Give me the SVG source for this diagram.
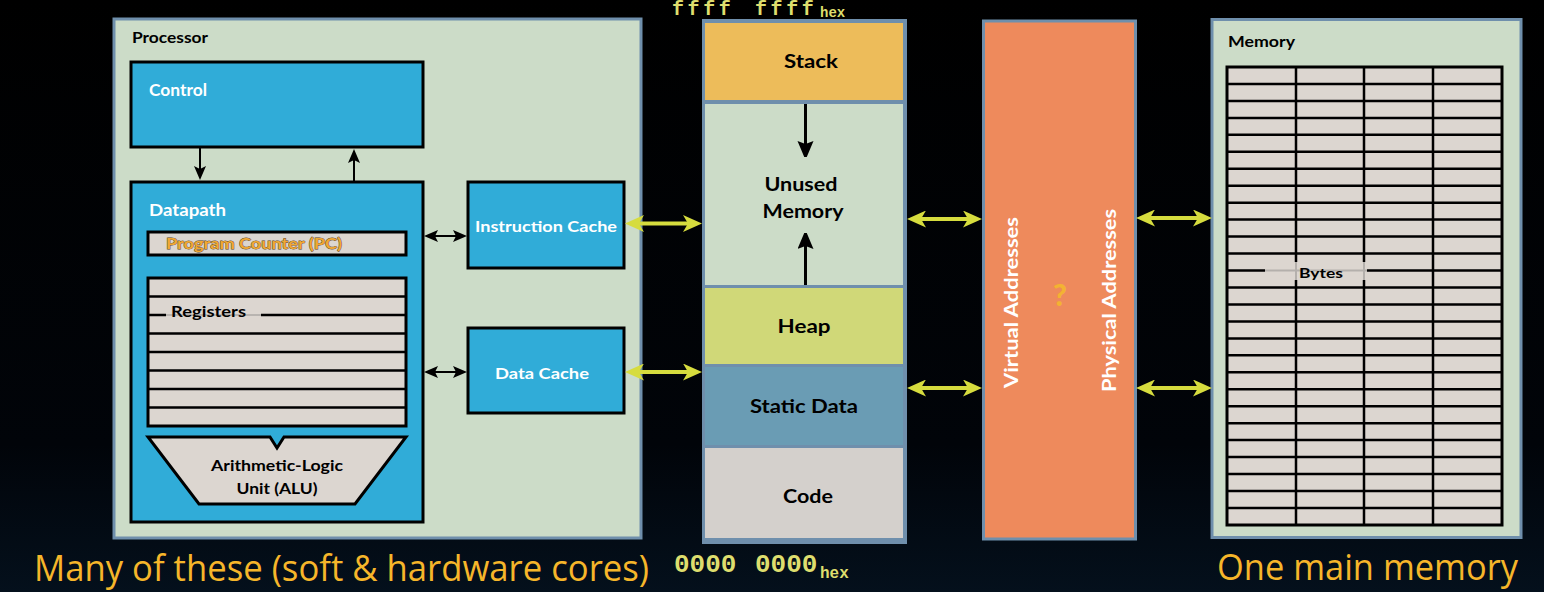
<svg xmlns="http://www.w3.org/2000/svg" width="1544" height="592" viewBox="0 0 1544 592">
<style>
.lbl{font-family:"Lato","Open Sans","Liberation Sans",sans-serif;font-weight:700}
.w{fill:#ffffff}
.k{fill:#000000}
.panel{fill:#ccdcc8;stroke:#6f8fac;stroke-width:3}
.blue{fill:#30acd8;stroke:#000;stroke-width:3}
.cell{fill:#dcd6d0;stroke:#000;stroke-width:3}
.grid{fill:none;stroke:#000;stroke-width:2.5}
.ya{stroke:#d6dc3e;stroke-width:4;fill:none}
.ka{stroke:#000;stroke-width:2;fill:none}
.kb{stroke:#000;stroke-width:3;fill:none}
.hex{font-family:"Liberation Mono","DejaVu Sans Mono",monospace;font-weight:700;fill:#dede6e}
.big{font-family:"Open Sans","Noto Sans","Liberation Sans",sans-serif;fill:#f6b62a}
</style>
<defs>
<linearGradient id="bg" x1="0" y1="0" x2="0" y2="1">
<stop offset="0" stop-color="#000000"/>
<stop offset="0.75" stop-color="#010409"/>
<stop offset="1" stop-color="#04101c"/>
</linearGradient>
<marker id="ym" viewBox="0 0 19 17" refX="8" refY="8.5" markerWidth="19" markerHeight="17" markerUnits="userSpaceOnUse" orient="auto-start-reverse">
<path d="M0,0 L19,8.5 L0,17 L5,8.5 Z" fill="#d6dc3e"/>
</marker>
<marker id="km" viewBox="0 0 14 12" refX="6" refY="6" markerWidth="14" markerHeight="12" markerUnits="userSpaceOnUse" orient="auto-start-reverse">
<path d="M0,0 L14,6 L0,12 L3,6 Z" fill="#000"/>
</marker>
<marker id="kl" viewBox="0 0 16 19" refX="6" refY="8" markerWidth="16" markerHeight="19" markerUnits="userSpaceOnUse" orient="auto">
<path d="M0,0 L19,8 L0,16 L3,8 Z" fill="#000"/>
</marker>
</defs>
<rect x="0" y="0" width="1544" height="592" fill="url(#bg)"/>

<g id="processor">
<rect class="panel" x="114" y="19" width="527" height="519"/>
<text class="lbl k" x="132" y="43" font-size="15" textLength="76" lengthAdjust="spacingAndGlyphs">Processor</text>
</g>

<g id="control">
<rect class="blue" x="131" y="62" width="292" height="85"/>
<text class="lbl w" x="149" y="96" font-size="17" textLength="58" lengthAdjust="spacingAndGlyphs">Control</text>
</g>

<g id="datapath">
<rect class="blue" x="131" y="182" width="292" height="340"/>
<text class="lbl w" x="149" y="216" font-size="17" textLength="77" lengthAdjust="spacingAndGlyphs">Datapath</text>
</g>

<g id="pc">
<rect class="cell" x="148" y="232" width="258" height="23"/>
<text x="166" y="249" font-size="15" textLength="176" lengthAdjust="spacingAndGlyphs" class="lbl" fill="#f0a832" stroke="#5a4426" stroke-width="0.8" paint-order="stroke">Program Counter (PC)</text>
</g>

<g id="registers">
<rect class="cell" x="148" y="278" width="258" height="148"/>
<path class="grid" d="M148 296.5H406M148 333.5H406M148 352H406M148 370.5H406M148 389H406M148 407.5H406M148 315H166M261 315H406"/>
<path d="M166 315H261" stroke="#b8b4b0" stroke-width="2"/>
<text class="lbl k" x="171" y="317" font-size="15" textLength="75" lengthAdjust="spacingAndGlyphs">Registers</text>
</g>

<g id="alu">
<path d="M148 437H270L277 448L284 437H406L355 504H199Z" fill="#dcd6d0" stroke="#000" stroke-width="3" stroke-linejoin="miter"/>
<text class="lbl k" x="277" y="471" font-size="15" text-anchor="middle" textLength="132" lengthAdjust="spacingAndGlyphs">Arithmetic-Logic</text>
<text class="lbl k" x="277" y="494" font-size="15" text-anchor="middle" textLength="81" lengthAdjust="spacingAndGlyphs">Unit (ALU)</text>
</g>

<g id="icache">
<rect class="blue" x="468" y="182" width="156" height="86"/>
<text class="lbl w" x="546" y="232" font-size="16" text-anchor="middle" textLength="142" lengthAdjust="spacingAndGlyphs">Instruction Cache</text>
</g>

<g id="dcache">
<rect class="blue" x="468" y="328" width="156" height="85"/>
<text class="lbl w" x="542" y="379" font-size="16" text-anchor="middle" textLength="94" lengthAdjust="spacingAndGlyphs">Data Cache</text>
</g>

<g id="addrspace">
<rect x="702" y="19" width="205" height="525" fill="#6f8fac"/>
<rect x="705" y="23" width="198" height="77" fill="#edbc5a"/>
<rect x="705" y="104" width="198" height="181" fill="#ccdcc8"/>
<rect x="705" y="288" width="198" height="76" fill="#d0d878"/>
<rect x="705" y="367" width="198" height="78" fill="#6a9cb4"/>
<rect x="705" y="448" width="198" height="90" fill="#d4d0cc"/>
<text class="lbl k" x="811" y="68" font-size="19" text-anchor="middle" textLength="54" lengthAdjust="spacingAndGlyphs">Stack</text>
<text class="lbl k" x="801" y="191" font-size="19" text-anchor="middle" textLength="73" lengthAdjust="spacingAndGlyphs">Unused</text>
<text class="lbl k" x="803" y="218" font-size="19" text-anchor="middle" textLength="81" lengthAdjust="spacingAndGlyphs">Memory</text>
<text class="lbl k" x="804" y="333" font-size="19" text-anchor="middle" textLength="53" lengthAdjust="spacingAndGlyphs">Heap</text>
<text class="lbl k" x="804" y="413" font-size="19" text-anchor="middle" textLength="108" lengthAdjust="spacingAndGlyphs">Static Data</text>
<text class="lbl k" x="808" y="503" font-size="19" text-anchor="middle" textLength="50" lengthAdjust="spacingAndGlyphs">Code</text>
<text class="hex" x="672" y="15" font-size="20" letter-spacing="3.6">ffff<tspan x="755">ffff</tspan><tspan x="820" y="17" font-size="14" letter-spacing="0">hex</tspan></text>
<text class="hex" x="674" y="572" font-size="26">0000<tspan x="755">0000</tspan><tspan x="820" y="578" font-size="16">hex</tspan></text>
</g>

<g id="vm">
<rect x="983.5" y="21" width="152" height="518" fill="#ee8a5c" stroke="#6f8fac" stroke-width="3"/>
<text class="lbl w" transform="translate(1018 302.5) rotate(-90)" x="0" y="0" font-size="19" text-anchor="middle" textLength="171" lengthAdjust="spacingAndGlyphs">Virtual Addresses</text>
<text class="lbl w" transform="translate(1116 300.5) rotate(-90)" x="0" y="0" font-size="19" text-anchor="middle" textLength="183" lengthAdjust="spacingAndGlyphs">Physical Addresses</text>
<text x="1060" y="306" font-size="30" font-weight="900" font-family="Lato,'Liberation Sans',sans-serif" text-anchor="middle" fill="#f3b232">?</text>
</g>

<g id="memory">
<rect class="panel" x="1212" y="19.5" width="309" height="518"/>
<text class="lbl k" x="1228" y="47" font-size="15" textLength="67" lengthAdjust="spacingAndGlyphs">Memory</text>
<rect class="cell" x="1227" y="67" width="275" height="458"/>
<path class="grid" d="M1227 84H1502M1227 100.9H1502M1227 117.9H1502M1227 134.8H1502M1227 151.8H1502M1227 168.8H1502M1227 185.7H1502M1227 202.7H1502M1227 219.6H1502M1227 236.6H1502M1227 253.6H1502M1227 287.5H1502M1227 304.4H1502M1227 321.4H1502M1227 338.4H1502M1227 355.3H1502M1227 372.3H1502M1227 389.2H1502M1227 406.2H1502M1227 423.2H1502M1227 440.1H1502M1227 457.1H1502M1227 474H1502M1227 491H1502M1227 508H1502M1296 67V262M1296 280V525M1364 67V262M1364 280V525M1433 67V525M1227 270.5H1265M1367 270.5H1502"/>
<path d="M1265 270.5H1367M1296 262V280M1364 262V280" stroke="#b4b0ac" stroke-width="2" fill="none"/>
<text class="lbl k" x="1299" y="278" font-size="14" textLength="44" lengthAdjust="spacingAndGlyphs">Bytes</text>
</g>

<g id="connectors">
<line class="ka" x1="200" y1="147" x2="200" y2="172" marker-end="url(#km)"/>
<line class="ka" x1="354" y1="182" x2="354" y2="157" marker-end="url(#km)"/>
<line class="ka" x1="432" y1="236" x2="459" y2="236" marker-start="url(#km)" marker-end="url(#km)"/>
<line class="ka" x1="432" y1="372" x2="459" y2="372" marker-start="url(#km)" marker-end="url(#km)"/>
<line class="kb" x1="805.5" y1="104" x2="805.5" y2="147" marker-end="url(#kl)"/>
<line class="kb" x1="805.5" y1="285" x2="805.5" y2="243" marker-end="url(#kl)"/>
<line class="ya" x1="636" y1="223.5" x2="691" y2="223.5" marker-start="url(#ym)" marker-end="url(#ym)"/>
<line class="ya" x1="636" y1="372" x2="691" y2="372" marker-start="url(#ym)" marker-end="url(#ym)"/>
<line class="ya" x1="918" y1="219" x2="971" y2="219" marker-start="url(#ym)" marker-end="url(#ym)"/>
<line class="ya" x1="918" y1="388" x2="971" y2="388" marker-start="url(#ym)" marker-end="url(#ym)"/>
<line class="ya" x1="1147" y1="218" x2="1201" y2="218" marker-start="url(#ym)" marker-end="url(#ym)"/>
<line class="ya" x1="1147" y1="388" x2="1201" y2="388" marker-start="url(#ym)" marker-end="url(#ym)"/>
</g>

<text class="big" x="34" y="581" font-size="36" textLength="615" lengthAdjust="spacingAndGlyphs">Many of these (soft &amp; hardware cores)</text>
<text class="big" x="1217" y="580" font-size="36" textLength="301" lengthAdjust="spacingAndGlyphs">One main memory</text>
</svg>
